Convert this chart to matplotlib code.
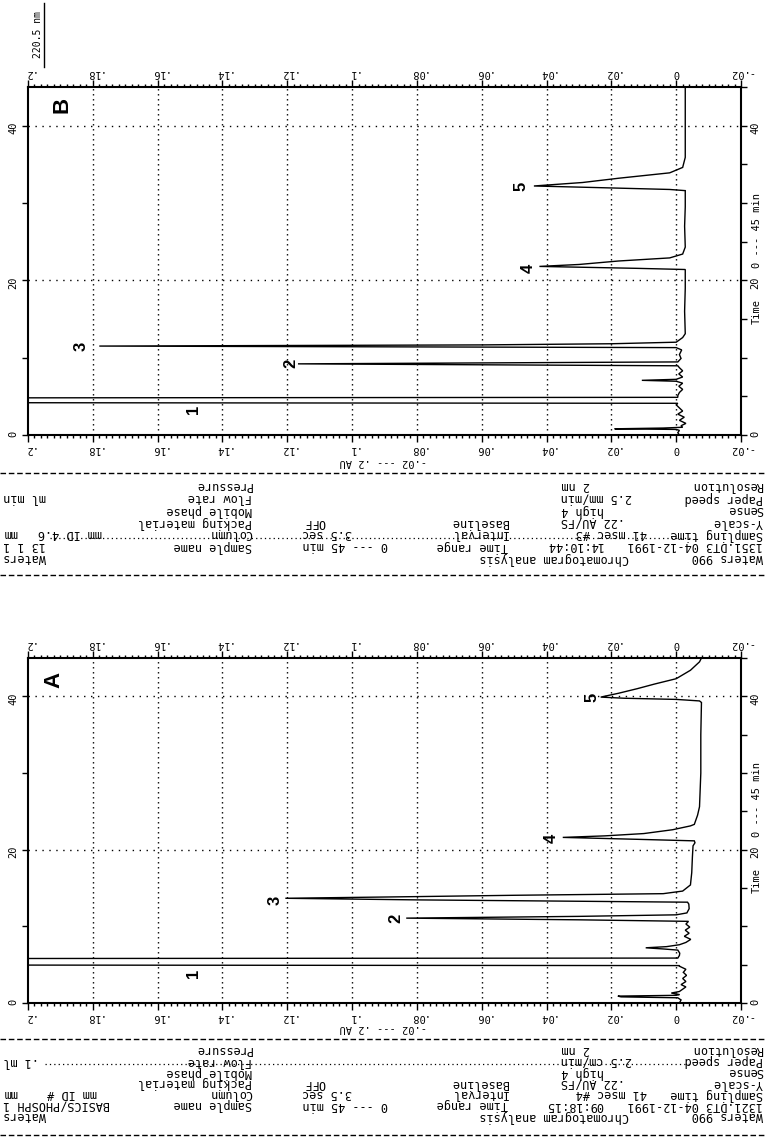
import matplotlib
import matplotlib.pyplot as plt
from matplotlib.ticker import MultipleLocator

matplotlib.use('Agg')

# ---- chart values ----
abs_ticks = [0.2, 0.18, 0.16, 0.14, 0.12, 0.1, 0.08, 0.06, 0.04, 0.02, 0.0, -0.02]
abs_tick_labels = ['.2', '.18', '.16', '.14', '.12', '.1', '.08', '.06', '.04', '.02', '0', '-.02']
abs_grid = [0.18, 0.16, 0.14, 0.12, 0.1, 0.08, 0.06, 0.04, 0.02, 0.0]
time_ticks = [0, 10, 20, 30, 40]
time_tick_labels = ['0', '', '20', '', '40']
time_grid = [20, 40]

# panel A trace: time (min), absorbance (AU)
a_time = [0.0, 0.4, 0.68, 0.8, 0.9, 1.0, 1.1, 1.3, 1.5, 1.8, 2.1, 2.4, 2.8, 3.2, 3.6, 4.0, 4.4, 4.8,
          4.88, 4.95, 5.37, 5.8, 5.86, 6.2, 6.5, 6.9, 7.05, 7.2, 7.35, 7.6, 7.9, 8.3, 8.7, 9.1, 9.5,
          9.9, 10.3, 10.65, 10.85, 11.07, 11.3, 11.5, 11.75, 12.3, 12.9, 13.15, 13.45, 13.66, 13.85,
          14.05, 14.26, 14.6, 15.4, 17.0, 19.0, 20.5, 20.9, 21.15, 21.35, 21.6, 21.8, 22.1, 22.6,
          23.1, 23.3, 24.5, 25.6, 30.0, 35.0, 39.2, 39.4, 39.6, 39.75, 39.9, 40.4, 41.0, 41.6, 42.3,
          43.4, 44.5, 45.0]
a_abs = [-0.001, -0.0015, -0.0005, 0.017, 0.018, 0.0, -0.001, 0.0015, -0.001, -0.002, -0.003,
         -0.0015, -0.003, -0.002, -0.0032, -0.0022, -0.003, -0.001,
         -0.001, 0.22, 0.32, 0.22, -0.0005, -0.001, -0.0011, -0.0005, 0.004, 0.0094, 0.003, -0.001,
         -0.003, -0.0045, -0.0025, -0.004, -0.0028, -0.0042, -0.003, -0.0038, 0.03, 0.0833, 0.03,
         0.0, -0.0033, -0.004, -0.0039, -0.0035, 0.08, 0.1206, 0.085, 0.05, 0.004, -0.002, -0.0044,
         -0.0048, -0.005, -0.0052, -0.0058, -0.0056, 0.012, 0.035, 0.022, 0.01, 0.0011, -0.0044,
         -0.0056, -0.0066, -0.0072, -0.0076, -0.0076, -0.0078, -0.0072, 0.0, 0.016, 0.0233, 0.0178,
         0.012, 0.0067, 0.0, -0.0044, -0.0072, -0.0078]

# panel B trace
b_time = [0.0, 0.3, 0.6, 0.72, 0.8, 0.9, 1.0, 1.2, 1.5, 1.9, 2.3, 2.7, 3.1, 3.5, 3.9, 4.1, 4.18,
          4.5, 4.8, 4.87, 5.1, 5.5, 5.9, 6.3, 6.7, 6.95, 7.07, 7.2, 7.5, 7.9, 8.3, 8.7, 8.95, 9.2,
          9.45, 9.9, 10.4, 11.0, 11.3, 11.5, 11.65, 11.8, 12.0, 12.6, 13.1, 16.0, 19.0, 21.4, 21.55,
          21.8, 22.05, 22.5, 22.9, 23.4, 24.3, 27.0, 29.5, 31.6, 31.75, 32.0, 32.2, 32.65, 33.2,
          33.9, 34.6, 35.9, 40.0, 45.0]
b_abs = [-0.001, -0.0005, -0.001, 0.0, 0.019, 0.004, -0.002, -0.0015, -0.003, -0.001, -0.0025,
         -0.0005, -0.002, -0.001, 0.0, -0.0005, 0.22, 0.32, 0.22, -0.0005, -0.0005, -0.001, -0.002,
         -0.0008, -0.002, 0.0, 0.0106, 0.0, -0.002, -0.0008, -0.002, -0.001, -0.0005, 0.1167,
         -0.0005, -0.0015, -0.001, -0.0017, 0.0, 0.178, 0.06, 0.02, 0.0, -0.002, -0.0028, -0.0026,
         -0.0028, -0.0028, 0.012, 0.0422, 0.03, 0.0178, 0.002, -0.002, -0.0028, -0.0026, -0.0028,
         -0.0028, 0.002, 0.025, 0.0439, 0.0289, 0.0178, 0.002, -0.002, -0.0028, -0.0028, -0.0028]

peak_names = ['1', '2', '3', '4', '5']
a_label_time = [3.8, 11.1, 13.4, 21.5, 39.9]
a_label_abs = [0.149, 0.0866, 0.1237, 0.0386, 0.026]
b_label_time = [3.3, 9.2, 11.5, 21.5, 32.2]
b_label_abs = [0.149, 0.119, 0.1836, 0.0457, 0.048]

# header block of each printout: (x px, y px, text, alignment), printed upside down
a_header = [
    (763, 1050, 'Resolution', 'right'), (561, 1050, '2 nm', 'left'), (252, 1050, 'Pressure', 'right'),
    (763, 1061, 'Paper speed', 'right'), (561, 1061, '2.5 cm/min', 'left'),
    (252, 1061, 'Flow rate', 'right'), (3, 1061, '.1 ml', 'left'),
    (763, 1072, 'Sense', 'right'), (561, 1072, 'high 4', 'left'), (252, 1072, 'Mobile phase', 'right'),
    (763, 1083, 'Y-scale', 'right'), (561, 1083, '.22 AU/FS', 'left'), (508, 1083, 'Baseline', 'right'),
    (304, 1083, 'OFF', 'left'), (252, 1083, 'Packing material', 'right'),
    (763, 1094, 'Sampling time', 'right'), (576, 1094, '41 msec #4', 'left'),
    (508, 1094, 'Interval', 'right'), (302, 1094, '3.5 sec', 'left'), (252, 1094, 'Column', 'right'),
    (97, 1094, 'mm ID #', 'right'), (3, 1094, 'mm', 'left'),
    (763, 1105, '1321.DT3 04-12-1991', 'right'), (546, 1105, '09:18:15', 'left'),
    (508, 1105, 'Time range', 'right'), (302, 1105, '0 --- 45 min', 'left'),
    (252, 1105, 'Sample name', 'right'), (3, 1105, 'BASICS/PHOSPH 1', 'left'),
    (763, 1116, 'Waters 990', 'right'), (479, 1116, 'Chromatogram analysis', 'left'),
    (3, 1116, 'Waters', 'left'),
]
b_header = [
    (763, 486, 'Resolution', 'right'), (561, 486, '2 nm', 'left'), (252, 486, 'Pressure', 'right'),
    (763, 498, 'Paper speed', 'right'), (561, 498, '2.5 mm/min', 'left'),
    (252, 498, 'Flow rate', 'right'), (3, 498, 'ml min', 'left'),
    (763, 510, 'Sense', 'right'), (561, 510, 'high 4', 'left'), (252, 510, 'Mobile phase', 'right'),
    (763, 522, 'Y-scale', 'right'), (561, 522, '.22 AU/FS', 'left'), (508, 522, 'Baseline', 'right'),
    (304, 522, 'OFF', 'left'), (252, 522, 'Packing material', 'right'),
    (763, 534, 'Sampling time', 'right'), (576, 534, '41 msec #3', 'left'),
    (508, 534, 'Interval', 'right'), (302, 534, '3.5 sec', 'left'), (252, 534, 'Column', 'right'),
    (102, 534, 'mm ID 4.6', 'right'), (3, 534, 'mm', 'left'),
    (763, 546, '1351.DT3 04-12-1991', 'right'), (546, 546, '14:10:44', 'left'),
    (508, 546, 'Time range', 'right'), (302, 546, '0 --- 45 min', 'left'),
    (252, 546, 'Sample name', 'right'), (3, 546, '13 1 1', 'left'),
    (763, 558, 'Waters 990', 'right'), (479, 558, 'Chromatogram analysis', 'left'),
    (3, 558, 'Waters', 'left'),
]

FIG_W, FIG_H = 766, 1143
MONO = 'DejaVu Sans Mono'
BOLD = 'Liberation Sans'

plt.rcParams['font.family'] = MONO


def fx(px):
    return px / FIG_W


def fy(py):
    return 1 - py / FIG_H


def draw_header(fig, rows, top_dash, bottom_dash, leader_y, leader_x):
    for x, y, s, ha in rows:
        fig.text(fx(x), fy(y), s, rotation=180, ha=ha, va='center', fontsize=8.6, family=MONO)
    for y in (top_dash, bottom_dash):
        fig.add_artist(plt.Line2D([0, 1], [fy(y), fy(y)], color='black', lw=1.0,
                                  linestyle=(0, (4, 2)), transform=fig.transFigure))
    fig.add_artist(plt.Line2D([fx(leader_x[0]), fx(leader_x[1])], [fy(leader_y), fy(leader_y)],
                              color='black', lw=0.9, linestyle=(0, (1, 2.5)), transform=fig.transFigure))


def draw_panel(ax, t, a, lab_t, lab_a, letter, letter_pos):
    ax.plot(a, t, color='black', lw=1.0, solid_joinstyle='miter')
    ax.set_xlim(0.2, -0.02)
    ax.set_ylim(0, 45)

    for g in abs_grid:
        ax.axvline(g, color='black', lw=1.0, linestyle=(0, (1, 2.6)), zorder=0)
    for g in time_grid:
        ax.axhline(g, color='black', lw=1.0, linestyle=(0, (1, 4)), zorder=0)

    ax.set_xticks(abs_ticks)
    ax.set_xticklabels(abs_tick_labels)
    ax.xaxis.set_minor_locator(MultipleLocator(0.002))
    ax.tick_params(axis='x', which='both', direction='out', top=True, bottom=True,
                   labeltop=True, labelbottom=True, labelrotation=180, labelsize=7.5, width=1.0)
    ax.tick_params(axis='x', which='major', length=5, pad=1.5)
    ax.tick_params(axis='x', which='minor', length=2.5)

    ax.set_yticks(time_ticks)
    ax.set_yticklabels(time_tick_labels)
    ax.yaxis.set_minor_locator(MultipleLocator(5))
    ax.tick_params(axis='y', which='major', direction='out', left=True, right=True,
                   labelleft=True, labelright=True, labelrotation=90, labelsize=7.5,
                   length=4, width=1.0, pad=3)
    ax.tick_params(axis='y', which='minor', direction='out', left=False, right=True,
                   length=4, width=1.0)
    for sp in ax.spines.values():
        sp.set_linewidth(1.5)

    for name, tt, aa in zip(peak_names, lab_t, lab_a):
        ax.text(aa, tt, name, rotation=90, ha='center', va='center', fontsize=12,
                fontweight='bold', family=BOLD)
    ax.text(letter_pos[0], letter_pos[1], letter, rotation=90, ha='center', va='center',
            fontsize=16, fontweight='bold', family=BOLD)

    # time caption along the right edge, split around the "20" tick label
    ax.text(1.022, 26.5, '0 --- 45 min', rotation=90, ha='center', va='center', fontsize=7.5,
            transform=ax.get_yaxis_transform())
    ax.text(1.022, 16.0, 'Time', rotation=90, ha='center', va='center', fontsize=7.5,
            transform=ax.get_yaxis_transform())


fig = plt.figure(figsize=(FIG_W / 100, FIG_H / 100), dpi=100)

ax_b = fig.add_axes([fx(28), fy(435), fx(741) - fx(28), fy(87) - fy(435)])
ax_a = fig.add_axes([fx(28), fy(1003), fx(741) - fx(28), fy(658) - fy(1003)])

draw_panel(ax_b, b_time, b_abs, b_label_time, b_label_abs, 'B', (0.1895, 42.7))
draw_panel(ax_a, a_time, a_abs, a_label_time, a_label_abs, 'A', (0.192, 42.1))

draw_header(fig, b_header, 473, 575, 538, (50, 690))
draw_header(fig, a_header, 1039, 1135, 1064, (45, 690))

# absorbance captions under the bottom axes
for y in (462, 1028):
    fig.text(fx(383), fy(y), '-.02 --- .2 AU', rotation=180, ha='center', va='center', fontsize=7.5)

fig.text(fx(38), fy(35), '220.5 nm', rotation=90, ha='center', va='center', fontsize=7)
fig.add_artist(plt.Line2D([fx(44), fx(44)], [fy(3), fy(67)], color='black', lw=1.0,
                          transform=fig.transFigure))

fig.savefig('out.png', dpi=100)
